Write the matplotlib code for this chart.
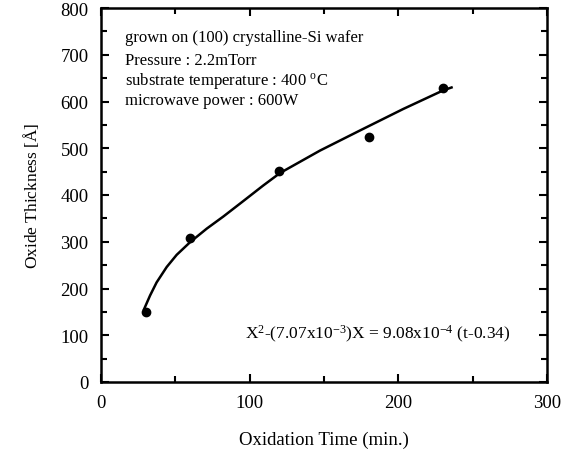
import numpy as np
import matplotlib
matplotlib.use("Agg")
from matplotlib import pyplot as plt
from matplotlib.ticker import MultipleLocator

plt.rcParams["font.family"] = ["Liberation Serif", "DejaVu Serif"]
plt.rcParams["mathtext.fontset"] = "custom"
plt.rcParams["mathtext.rm"] = "Liberation Serif"
plt.rcParams["mathtext.it"] = "Liberation Serif"

# measured points
time_pts = [30, 60, 120, 180, 230]
thick_pts = [150, 308, 452, 525, 628]

# fitted curve
curve_t = [29, 33, 37.4, 44.2, 50.9, 59.9, 71.1, 82.3, 95.7, 109, 120.4,
           147.3, 174.2, 203.3, 230.3, 235.8]
curve_x = [156, 185, 213, 246, 272, 299, 328, 354, 387, 420, 447,
           495, 538, 584, 624, 630]

notes = ["grown on (100) crystalline-Si wafer",
         "Pressure : 2.2mTorr",
         "substrate temperature : 400 $^{\\mathrm{o}}$C",
         "microwave power : 600W"]
equation = r"X$^2$-(7.07x10$^{-3}$)X = 9.08x10$^{-4}$ (t-0.34)"

fig = plt.figure(figsize=(5.67, 4.6), dpi=100)
ax = fig.add_axes([101/567, 1 - 383/460, 446/567, 374/460])

ax.plot(curve_t, curve_x, color="black", lw=1.8)
ax.plot(time_pts, thick_pts, "o", color="black", ms=6)

ax.set_xlim(0, 300)
ax.set_ylim(0, 800)
ax.xaxis.set_major_locator(MultipleLocator(100))
ax.xaxis.set_minor_locator(MultipleLocator(50))
ax.yaxis.set_major_locator(MultipleLocator(100))
ax.yaxis.set_minor_locator(MultipleLocator(50))
ax.tick_params(which="both", direction="in", top=True, right=True,
               labelsize=13.5, width=1.5)
ax.tick_params(which="major", length=6, pad=9)
ax.tick_params(which="minor", length=4)
for s in ax.spines.values():
    s.set_linewidth(1.8)

ax.set_xlabel("Oxidation Time (min.)", fontsize=13.5, labelpad=14)
ax.set_ylabel("Oxide Thickness [$\\mathrm{\\AA}$]", fontsize=12.5, labelpad=14)

ys = [38, 61, 81, 101]
for txt, yp in zip(notes, ys):
    fig.text(125/567, 1 - yp/460, txt, fontsize=12, va="center")
fig.text(245/567, 1 - 334/460, equation, fontsize=12.5, va="center")

fig.savefig("out.png", dpi=100)
